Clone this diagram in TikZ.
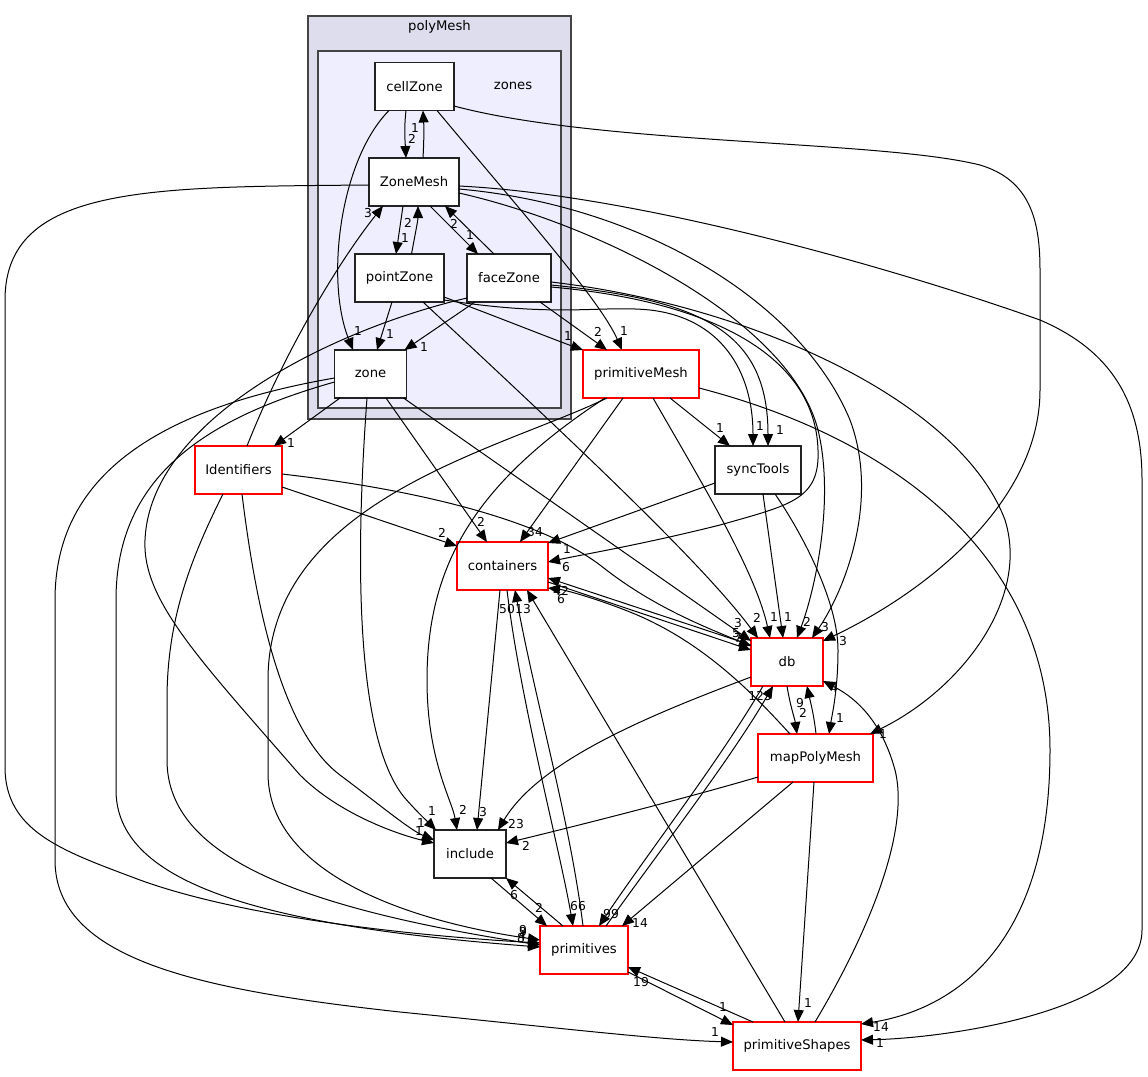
\documentclass[tikz,border=0pt]{standalone}
\usepackage{fontspec}
\setmainfont{DejaVu Sans}
\usetikzlibrary{arrows.meta}
\definecolor{clOuter}{HTML}{DDDDEE}
\definecolor{clInner}{HTML}{EEEEFF}
\definecolor{clBorder}{HTML}{444444}
\definecolor{nodeBorder}{HTML}{222222}
\begin{document}
\begin{tikzpicture}[x=1pt,y=-1pt,
  cluster/.style={draw=clBorder, line width=1.6pt, inner sep=0pt, outer sep=0pt},
  box/.style={draw=nodeBorder, fill=white, line width=1.1pt, minimum height=48pt, inner sep=0pt, outer sep=0pt, font=\fontsize{13.2}{15}\selectfont},
  redbox/.style={box, draw=red},
  dep/.style={line width=1pt, -{Triangle[length=12pt,width=10pt]}},
  lbl/.style={font=\fontsize{12.3}{14}\selectfont, inner sep=0pt},
  clbl/.style={font=\fontsize{13.2}{15}\selectfont, inner sep=0pt}]
\useasboundingbox (0,0) rectangle (1148,1076);
\fill[white] (0,0) rectangle (1148,1076);

% clusters
\node[cluster, fill=clOuter, minimum width=263pt, minimum height=403pt] (polyMesh) at (439.5,217.5) {};
\node[clbl] (polyMeshLbl) at (439.5,27) {polyMesh};
\node[cluster, fill=clInner, minimum width=243pt, minimum height=357pt] (zones) at (439.5,229.5) {};
\node[clbl] (zonesLbl) at (513,86) {zones};

% nodes
\node[box, minimum width=79pt] (cellZone) at (414.5,86.5) {cellZone};
\node[box, minimum width=90pt] (ZoneMesh) at (414,182) {ZoneMesh};
\node[box, minimum width=89pt] (pointZone) at (399.5,278) {pointZone};
\node[box, minimum width=84pt] (faceZone) at (509,278) {faceZone};
\node[box, minimum width=72pt] (zone) at (370.5,374) {zone};
\node[redbox, minimum width=116pt] (primitiveMesh) at (641,374) {primitiveMesh};
\node[redbox, minimum width=87pt] (Identifiers) at (238.5,470) {Identifiers};
\node[box, minimum width=86pt] (syncTools) at (758,470) {syncTools};
\node[redbox, minimum width=91pt] (containers) at (502.5,566) {containers};
\node[redbox, minimum width=72pt] (db) at (787,662) {db};
\node[redbox, minimum width=115pt] (mapPolyMesh) at (815.5,758) {mapPolyMesh};
\node[box, minimum width=72pt] (include) at (470,854) {include};
\node[redbox, minimum width=88pt] (primitives) at (584,950) {primitives};
\node[redbox, minimum width=128pt] (primitiveShapes) at (797,1046) {primitiveShapes};

% ---- edges ----
% cellZone
\draw[dep] ([xshift=-8.5pt]cellZone.south) .. controls (404,128) and (405,140) .. ([xshift=-8pt]ZoneMesh.north);
\draw[dep] ([xshift=9pt]ZoneMesh.north) .. controls (424,140) and (424,128) .. ([xshift=8.5pt]cellZone.south);
\draw[dep] ([xshift=-25.5pt]cellZone.south) .. controls (340,160) and (325,280) .. ([xshift=-17.5pt]zone.north);
\draw[dep] ([xshift=22.5pt]cellZone.south) .. controls (520,210) and (600,300) .. ([xshift=-19pt]primitiveMesh.north);
\draw[dep] ([yshift=-19.5pt]cellZone.east) .. controls (600,145) and (880,140) .. (980,165) .. controls (1030,180) and (1040,220) .. (1040,270) -- (1040,390) .. controls (1040,500) and (930,590) .. ([yshift=21pt]db.east);

% ZoneMesh
\draw[dep] ([xshift=-11pt]ZoneMesh.south) -- ([xshift=-3.5pt]pointZone.north);
\draw[dep] ([xshift=12pt]pointZone.north) .. controls (415,235) and (418,220) .. ([xshift=4pt]ZoneMesh.south);
\draw[dep] ([xshift=16pt]ZoneMesh.south) -- ([xshift=-31pt]faceZone.north);
\draw[dep] ([xshift=-15pt]faceZone.north) -- ([xshift=31pt]ZoneMesh.south);
\draw[dep] ([yshift=-3pt]ZoneMesh.west) .. controls (150,187) and (5,185) .. (5,300) -- (5,767) .. controls (5,830) and (60,850) .. (132,877) .. controls (230,915) and (400,935) .. ([yshift=7pt]primitives.west);
\draw[dep] ([yshift=-7pt]ZoneMesh.east) .. controls (640,205) and (800,300) .. (850,420) .. controls (880,500) and (845,590) .. ([xshift=25pt]db.north);
\draw[dep] ([yshift=-11pt]ZoneMesh.east) .. controls (600,225) and (790,320) .. (818,430) .. controls (835,500) and (815,590) .. ([xshift=10pt]db.north);
\draw[dep] ([yshift=-4pt]ZoneMesh.east) .. controls (640,195) and (900,270) .. (1040,320) .. controls (1110,350) and (1142,400) .. (1142,480) -- (1142,930) .. controls (1142,1010) and (950,1038) .. ([yshift=6pt]primitiveShapes.east);

% pointZone
\draw[dep] ([xshift=-7.5pt]pointZone.south) -- ([xshift=6.5pt]zone.north);
\draw[dep] ([yshift=-19pt]pointZone.east) .. controls (500,318) and (550,338) .. (primitiveMesh.north west);
\draw[dep] ([yshift=-22pt]pointZone.east) .. controls (560,318) and (600,305) .. (650,310) .. controls (720,318) and (753,370) .. ([xshift=-5pt]syncTools.north);
\draw[dep] ([xshift=23.5pt]pointZone.south) .. controls (560,430) and (700,560) .. ([xshift=-29pt]db.north);

% faceZone
\draw[dep] ([xshift=31pt]faceZone.south) -- ([xshift=-34pt]primitiveMesh.north);
\draw[dep] ([xshift=-34pt]faceZone.south) -- ([xshift=34pt]zone.north);
\draw[dep] ([yshift=-20pt]faceZone.west) .. controls (330,330) and (150,420) .. (145,540) .. controls (142,600) and (200,660) .. (300,775) .. controls (340,815) and (400,835) .. ([yshift=11pt]include.west);
\draw[dep] ([yshift=-7pt]faceZone.east) .. controls (700,300) and (768,330) .. ([xshift=10pt]syncTools.north);
\draw[dep] ([yshift=-9pt]faceZone.east) .. controls (700,300) and (815,350) .. (818,450) .. controls (820,500) and (790,505) .. (720,525) .. controls (640,545) and (580,555) .. ([yshift=4pt]containers.east);
\draw[dep] ([yshift=-4pt]faceZone.east) .. controls (750,305) and (960,400) .. (1005,520) .. controls (1030,600) and (960,690) .. ([xshift=-3pt]mapPolyMesh.north east);

% zone
\draw[dep] ([xshift=-30.5pt]zone.south) -- ([xshift=35.5pt]Identifiers.north);
\draw[dep] ([xshift=-3.5pt]zone.south) .. controls (358,520) and (350,730) .. (404,797) .. controls (418,813) and (428,822) .. ([xshift=-34pt]include.north);
\draw[dep] ([xshift=15.5pt]zone.south) -- ([xshift=-15.5pt]containers.north);
\draw[dep] ([xshift=33pt]zone.south) -- ([yshift=21pt]db.west);
\draw[dep] ([yshift=-8pt]zone.west) .. controls (200,420) and (116,480) .. (116,600) -- (116,790) .. controls (116,880) and (250,925) .. ([yshift=3pt]primitives.west);
\draw[dep] ([yshift=-4pt]zone.west) .. controls (150,410) and (55,480) .. (55,600) -- (55,860) .. controls (55,960) and (200,990) .. (400,1012) .. controls (560,1028) and (660,1040) .. ([yshift=4pt]primitiveShapes.west);

% Identifiers
\draw[dep] ([xshift=8.5pt]Identifiers.north) .. controls (285,350) and (340,260) .. ([xshift=-31pt]ZoneMesh.south);
\draw[dep] ([yshift=-17pt]Identifiers.east) -- ([yshift=20pt]containers.west);
\draw[dep] ([yshift=-4pt]Identifiers.east) .. controls (420,490) and (540,520) .. (600,565) .. controls (650,605) and (700,625) .. ([yshift=16pt]db.west);
\draw[dep] ([xshift=3.5pt]Identifiers.south) .. controls (255,600) and (280,730) .. (340,775) .. controls (380,805) and (410,830) .. ([yshift=14pt]include.west);
\draw[dep] ([xshift=-15.5pt]Identifiers.south) .. controls (190,560) and (167,620) .. (167,700) -- (167,760) .. controls (167,850) and (280,905) .. ([yshift=5pt]primitives.west);

% primitiveMesh
\draw[dep] ([xshift=-18pt]primitiveMesh.south) -- ([xshift=17.5pt]containers.north);
\draw[dep] ([xshift=12pt]primitiveMesh.south) .. controls (700,480) and (755,570) .. ([xshift=-17pt]db.north);
\draw[dep] ([xshift=29pt]primitiveMesh.south) -- ([xshift=-28pt]syncTools.north);
\draw[dep] ([xshift=-34pt]primitiveMesh.south) .. controls (500,450) and (268,500) .. (268,680) -- (268,773) .. controls (268,870) and (400,920) .. ([yshift=10pt]primitives.west);
\draw[dep] ([xshift=-36pt]primitiveMesh.south) .. controls (480,480) and (427,560) .. (427,680) .. controls (427,760) and (452,800) .. ([xshift=-13pt]include.north);
\draw[dep] ([yshift=-14pt]primitiveMesh.east) .. controls (900,440) and (1050,560) .. (1050,750) .. controls (1050,950) and (950,1010) .. ([yshift=22pt]primitiveShapes.east);

% syncTools
\draw[dep] ([yshift=-13pt]syncTools.west) -- ([yshift=23pt]containers.east);
\draw[dep] ([xshift=5pt]syncTools.south) -- ([xshift=-4pt]db.north);
\draw[dep] ([xshift=17pt]syncTools.south) .. controls (800,530) and (838,600) .. (838,650) .. controls (838,690) and (832,715) .. ([xshift=13.5pt]mapPolyMesh.north);

% containers / db
\draw[dep] ([yshift=-16pt]containers.east) -- ([yshift=12pt]db.west);
\draw[dep] ([yshift=17pt]db.west) -- ([yshift=-12pt]containers.east);
\draw[dep] ([xshift=-2.5pt]containers.south) -- ([xshift=7pt]include.north);
\draw[dep] ([xshift=4.5pt]containers.south) .. controls (520,700) and (560,850) .. ([xshift=-11pt]primitives.north);
\draw[dep] ([xshift=-1pt]primitives.north) .. controls (570,820) and (535,700) .. ([xshift=12.5pt]containers.south);
\draw[dep] ([xshift=-12pt]primitiveShapes.north) -- ([xshift=24.5pt]containers.south);
\draw[dep] ([yshift=-15pt]db.west) .. controls (650,715) and (540,760) .. ([xshift=-8pt]include.north east);
\draw[dep] ([xshift=-24pt]db.south) .. controls (720,760) and (650,850) .. ([xshift=15pt]primitives.north);
\draw[dep] ([xshift=22pt]primitives.north) .. controls (660,850) and (730,760) .. ([xshift=-14pt]db.south);
\draw[dep] (db.south) .. controls (790,705) and (795,720) .. ([xshift=-18.5pt]mapPolyMesh.north);
\draw[dep] ([xshift=0.5pt]mapPolyMesh.north) .. controls (814,715) and (810,700) .. ([xshift=20pt]db.south);

% mapPolyMesh
\draw[dep] ([xshift=-25.5pt]mapPolyMesh.north) .. controls (750,690) and (700,640) .. (630,612) .. controls (595,598) and (565,590) .. ([yshift=-22pt]containers.east);
\draw[dep] ([yshift=-19pt]mapPolyMesh.west) .. controls (680,800) and (560,830) .. ([yshift=11pt]include.east);
\draw[dep] ([xshift=-22.5pt]mapPolyMesh.south) -- ([xshift=38pt]primitives.north);
\draw[dep] ([xshift=-1.5pt]mapPolyMesh.south) -- ([xshift=1pt]primitiveShapes.north);

% include / primitives / primitiveShapes
\draw[dep] ([xshift=21pt]include.south) -- ([xshift=-37pt]primitives.north);
\draw[dep] ([xshift=-21pt]primitives.north) -- (include.south east);
\draw[dep] ([yshift=-22pt]primitives.east) -- ([yshift=21pt]primitiveShapes.west);
\draw[dep] ([xshift=-44pt]primitiveShapes.north) -- ([yshift=-17pt]primitives.east);
\draw[dep] ([xshift=18pt]primitiveShapes.north) .. controls (870,930) and (910,830) .. (895,770) .. controls (880,715) and (850,695) .. ([yshift=-19pt]db.east);

% ---- labels ----
\node[lbl] (l01) at (412,139) {2};
\node[lbl] (l02) at (415,128) {1};
\node[lbl] (l03) at (358,331) {1};
\node[lbl] (l04) at (624,331) {1};
\node[lbl] (l05) at (843,641) {3};
\node[lbl] (l06) at (405,238) {1};
\node[lbl] (l07) at (408,223) {2};
\node[lbl] (l08) at (470,235) {1};
\node[lbl] (l09) at (454,224) {2};
\node[lbl] (l10) at (523,932) {9};
\node[lbl] (l11) at (825,627) {3};
\node[lbl] (l12) at (807,622) {2};
\node[lbl] (l13) at (880,1043) {1};
\node[lbl] (l14) at (390,334) {1};
\node[lbl] (l15) at (568,336) {1};
\node[lbl] (l16) at (760,426) {1};
\node[lbl] (l17) at (757,618) {2};
\node[lbl] (l18) at (598,332) {2};
\node[lbl] (l19) at (424,347) {1};
\node[lbl] (l20) at (419,831) {1};
\node[lbl] (l21) at (780,430) {1};
\node[lbl] (l22) at (566,567) {6};
\node[lbl] (l23) at (883,734) {1};
\node[lbl] (l24) at (291,443) {1};
\node[lbl] (l25) at (432,811) {1};
\node[lbl] (l26) at (481,522) {2};
\node[lbl] (l27) at (738,623) {3};
\node[lbl] (l28) at (521,938) {8};
\node[lbl] (l29) at (715,1032) {1};
\node[lbl] (l30) at (368,213) {3};
\node[lbl] (l31) at (442,533) {2};
\node[lbl] (l32) at (738,638) {7};
\node[lbl] (l33) at (421,823) {1};
\node[lbl] (l34) at (522,936) {4};
\node[lbl] (l35) at (535,532) {34};
\node[lbl] (l36) at (774,617) {1};
\node[lbl] (l37) at (720,428) {1};
\node[lbl] (l38) at (523,930) {9};
\node[lbl] (l39) at (463,810) {2};
\node[lbl] (l40) at (881,1027) {14};
\node[lbl] (l41) at (567,549) {1};
\node[lbl] (l42) at (788,617) {1};
\node[lbl] (l43) at (840,718) {1};
\node[lbl] (l44) at (736,633) {5};
\node[lbl] (l45) at (561,591) {42};
\node[lbl] (l46) at (483,812) {3};
\node[lbl] (l47) at (578,906) {66};
\node[lbl] (l48) at (507,609) {50};
\node[lbl] (l49) at (523,609) {13};
\node[lbl] (l50) at (516,824) {23};
\node[lbl] (l51) at (611,914) {99};
\node[lbl] (l52) at (760,696) {123};
\node[lbl] (l53) at (803,713) {2};
\node[lbl] (l54) at (800,703) {9};
\node[lbl] (l55) at (561,599) {6};
\node[lbl] (l56) at (526,846) {2};
\node[lbl] (l57) at (640,923) {14};
\node[lbl] (l58) at (808,1003) {1};
\node[lbl] (l59) at (539,908) {2};
\node[lbl] (l60) at (514,895) {6};
\node[lbl] (l61) at (723,1007) {1};
\node[lbl] (l62) at (641,982) {19};
\node[lbl] (l63) at (834,688) {4};
\end{tikzpicture}
\end{document}
